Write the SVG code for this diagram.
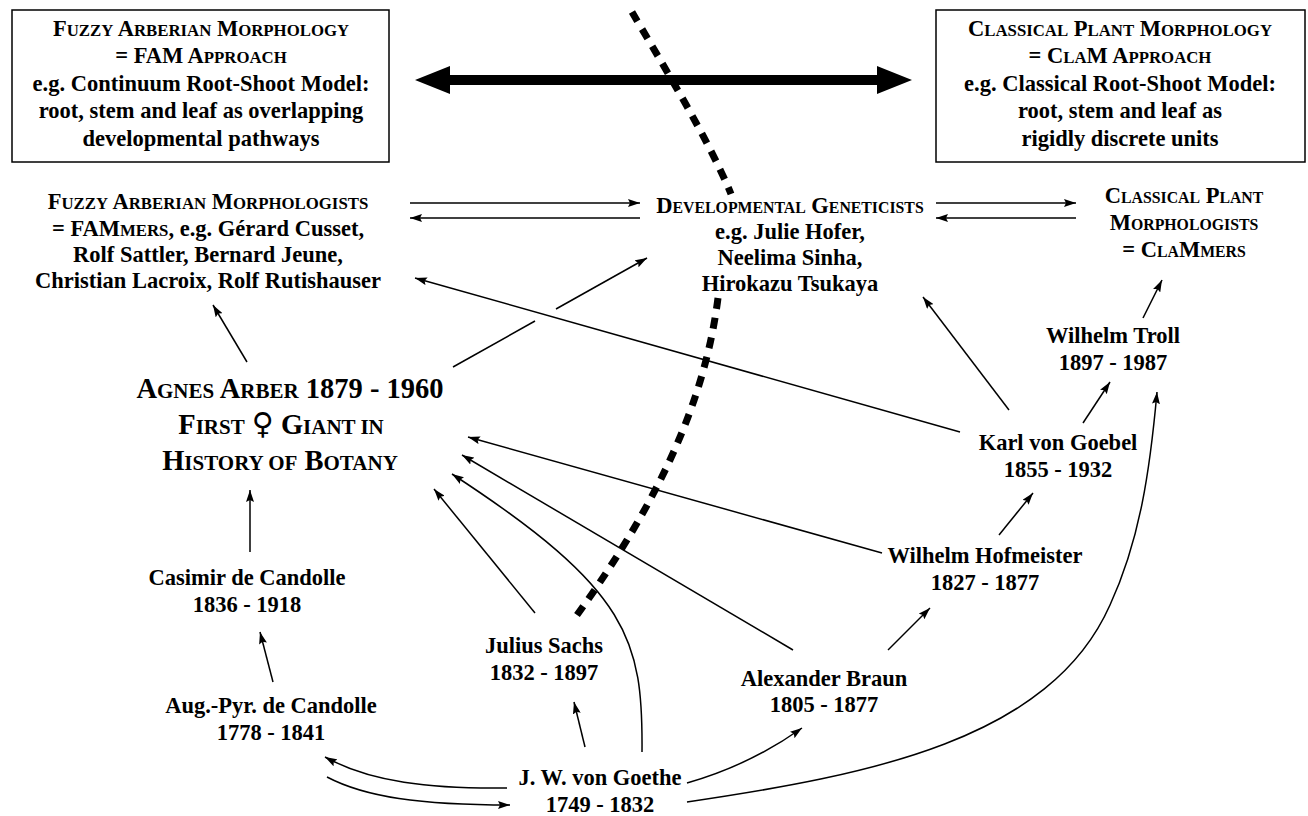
<svg xmlns="http://www.w3.org/2000/svg" width="1308" height="816" viewBox="0 0 1308 816">
<style>
text{font-family:"Liberation Serif","Times New Roman",serif;font-weight:bold;font-size:22.5px;fill:#000;text-anchor:middle}
.s{font-size:16.8px}
.s2{font-size:15.8px}
.big{font-size:28.5px}
.sb{font-size:21px}
.sym{font-family:"DejaVu Serif","DejaVu Sans",serif;font-weight:normal;font-size:30px}
.box{fill:#fff;stroke:#000;stroke-width:1.5}
.ln{fill:none;stroke:#000;stroke-width:1.5}
.arr{marker-end:url(#ah)}
.dash{fill:none;stroke:#000;stroke-width:7;stroke-dasharray:11 9}
</style>
<defs>
<marker id="ah" viewBox="0 0 12 8" refX="12" refY="4" markerWidth="12" markerHeight="8" markerUnits="userSpaceOnUse" orient="auto"><path d="M0,0 L12,4 L0,8 L2,4 Z"/></marker>
</defs>
<rect width="1308" height="816" fill="#fff"/>

<g id="connectors">
<path class="dash" d="M632,12 C660,60 708,138 731,194"/>
<path class="dash" d="M718,298 C705,400 660,500 577,615"/>
<line x1="449" y1="80" x2="878" y2="80" stroke="#000" stroke-width="10"/>
<polygon points="415,80 450,66 450,94"/>
<polygon points="912,80 877,66 877,94"/>
<line class="ln arr" x1="410" y1="203" x2="640" y2="203"/>
<line class="ln arr" x1="640" y1="218" x2="410" y2="218"/>
<line class="ln arr" x1="936" y1="203" x2="1076" y2="203"/>
<line class="ln arr" x1="1076" y1="218" x2="936" y2="218"/>
<line class="ln arr" x1="1143" y1="318" x2="1162" y2="280"/>
<line class="ln arr" x1="1083" y1="423" x2="1110" y2="382"/>
<line class="ln arr" x1="1009" y1="410" x2="923" y2="297"/>
<line class="ln arr" x1="960" y1="432" x2="415" y2="278"/>
<line class="ln arr" x1="999" y1="535" x2="1033" y2="493"/>
<line class="ln arr" x1="882" y1="553" x2="468" y2="437"/>
<line class="ln arr" x1="888" y1="650" x2="930" y2="608"/>
<line class="ln arr" x1="793" y1="650" x2="462" y2="455"/>
<line class="ln arr" x1="535" y1="613" x2="434" y2="489"/>
<path class="ln arr" d="M642,752 C643,640 630,590 452,474"/>
<line class="ln arr" x1="585" y1="747" x2="574" y2="702"/>
<path class="ln arr" d="M687,783 Q750,765 802,728"/>
<path class="ln arr" d="M687,802 C870,775 1050,740 1110,605 C1140,540 1150,470 1157,392"/>
<path class="ln arr" d="M507,788 C430,789 370,782 325,757"/>
<path class="ln arr" d="M327,777 C365,797 420,805 510,805"/>
<line class="ln arr" x1="273" y1="682" x2="260" y2="632"/>
<line class="ln arr" x1="250" y1="552" x2="250" y2="490"/>
<line class="ln arr" x1="247" y1="362" x2="213" y2="305"/>
<line class="ln" x1="453" y1="367" x2="535" y2="321"/>
<line class="ln arr" x1="556" y1="309" x2="647" y2="258"/>
</g>

<g id="fam-box">
<rect class="box" x="12" y="10" width="377" height="152"/>
<text x="201" y="36">F<tspan class="s">UZZY</tspan> A<tspan class="s">RBERIAN</tspan> M<tspan class="s">ORPHOLOGY</tspan></text>
<text x="201" y="63">= FAM A<tspan class="s">PPROACH</tspan></text>
<text x="201" y="91">e.g. Continuum Root-Shoot Model:</text>
<text x="201" y="118">root, stem and leaf as overlapping</text>
<text x="201" y="146">developmental pathways</text>
</g>

<g id="clam-box">
<rect class="box" x="936" y="10" width="369" height="152"/>
<text x="1120" y="36">C<tspan class="s">LASSICAL</tspan> P<tspan class="s">LANT</tspan> M<tspan class="s">ORPHOLOGY</tspan></text>
<text x="1120" y="63">= C<tspan class="s">LA</tspan>M A<tspan class="s">PPROACH</tspan></text>
<text x="1120" y="91">e.g. Classical Root-Shoot Model:</text>
<text x="1120" y="118">root, stem and leaf as</text>
<text x="1120" y="146">rigidly discrete units</text>
</g>

<g id="fammers">
<text x="208" y="209">F<tspan class="s">UZZY</tspan> A<tspan class="s">RBERIAN</tspan> M<tspan class="s">ORPHOLOGISTS</tspan></text>
<text x="208" y="236">= FAM<tspan class="s">MERS</tspan>, e.g. Gérard Cusset,</text>
<text x="208" y="262">Rolf Sattler, Bernard Jeune,</text>
<text x="208" y="288">Christian Lacroix, Rolf Rutishauser</text>
</g>

<g id="devgen">
<text x="790" y="213">D<tspan class="s2">EVELOPMENTAL</tspan> G<tspan class="s2">ENETICISTS</tspan></text>
<text x="790" y="239">e.g. Julie Hofer,</text>
<text x="790" y="265">Neelima Sinha,</text>
<text x="790" y="291">Hirokazu Tsukaya</text>
</g>

<g id="clammers">
<text x="1184" y="203">C<tspan class="s2">LASSICAL</tspan> P<tspan class="s2">LANT</tspan></text>
<text x="1184" y="230">M<tspan class="s2">ORPHOLOGISTS</tspan></text>
<text x="1184" y="257">= C<tspan class="s2">LA</tspan>M<tspan class="s2">MERS</tspan></text>
</g>

<g id="agnes">
<text x="290" y="398" class="big">A<tspan class="sb">GNES</tspan> A<tspan class="sb">RBER</tspan> 1879 - 1960</text>
<text x="281" y="434" class="big">F<tspan class="sb">IRST</tspan> <tspan class="sym">♀</tspan> G<tspan class="sb">IANT IN</tspan></text>
<text x="280" y="470" class="big">H<tspan class="sb">ISTORY OF</tspan> B<tspan class="sb">OTANY</tspan></text>
</g>

<g id="troll">
<text x="1113" y="343">Wilhelm Troll</text>
<text x="1113" y="370">1897 - 1987</text>
</g>

<g id="goebel">
<text x="1058" y="450">Karl von Goebel</text>
<text x="1058" y="477">1855 - 1932</text>
</g>

<g id="hofmeister">
<text x="985" y="563">Wilhelm Hofmeister</text>
<text x="985" y="590">1827 - 1877</text>
</g>

<g id="casimir">
<text x="247" y="585">Casimir de Candolle</text>
<text x="247" y="612">1836 - 1918</text>
</g>

<g id="sachs">
<text x="544" y="653">Julius Sachs</text>
<text x="544" y="680">1832 - 1897</text>
</g>

<g id="braun">
<text x="824" y="686">Alexander Braun</text>
<text x="824" y="712">1805 - 1877</text>
</g>

<g id="augpyr">
<text x="271" y="713">Aug.-Pyr. de Candolle</text>
<text x="271" y="740">1778 - 1841</text>
</g>

<g id="goethe">
<text x="600" y="785">J. W. von Goethe</text>
<text x="600" y="812">1749 - 1832</text>
</g>
</svg>
